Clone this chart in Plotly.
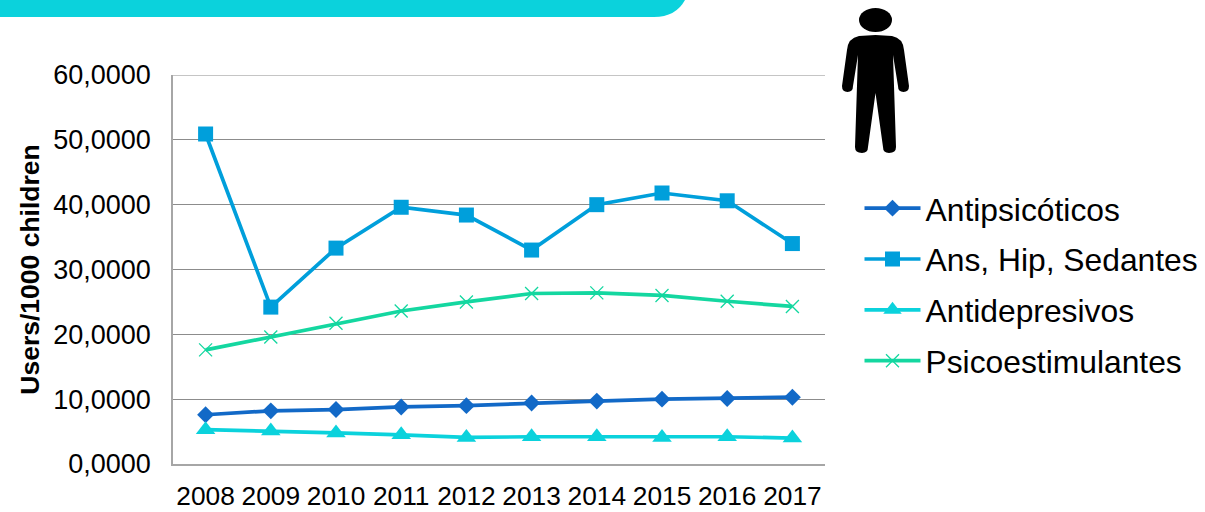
import plotly.graph_objects as go

W, H = 1205, 512
L, R, T, B = 173, 825, 75, 464

years = ["2008", "2009", "2010", "2011", "2012", "2013", "2014", "2015", "2016", "2017"]
antipsicoticos = [7.6, 8.2, 8.4, 8.8, 9.0, 9.4, 9.7, 10.0, 10.1, 10.3]
ans_hip_sedantes = [50.9, 24.2, 33.3, 39.6, 38.4, 33.0, 40.0, 41.8, 40.6, 34.0]
antidepresivos = [5.3, 5.1, 4.8, 4.5, 4.1, 4.2, 4.2, 4.1, 4.2, 4.0]
psicoestimulantes = [17.6, 19.6, 21.7, 23.6, 25.0, 26.3, 26.4, 26.0, 25.1, 24.3]
y_ticks = [0, 10, 20, 30, 40, 50, 60]
y_labels = ["0,0000", "10,0000", "20,0000", "30,0000", "40,0000", "50,0000", "60,0000"]

FONT = "Liberation Sans, Arial, sans-serif"
fig = go.Figure()


def add(name, vals, color, symbol, size, lw=3.7, mline=None):
    marker = dict(symbol=symbol, size=size, color=color)
    if mline:
        marker["line"] = dict(color=color, width=mline)
    fig.add_trace(go.Scatter(x=years, y=vals, name=name, mode="lines+markers", legendgroup=name,
                             line=dict(color=color, width=lw), marker=marker))


add("Antipsicóticos", antipsicoticos, "#1269C7", "diamond", 13)
add("Ans, Hip, Sedantes", ans_hip_sedantes, "#009FDB", "square", 15)
add("Antidepresivos", antidepresivos, "#0BD2DC", "triangle-up", 17)
add("Psicoestimulantes", psicoestimulantes, "#14D7A0", "x-thin", 13, mline=1.3)


def px(x):
    return (x - L) / (R - L)


def py(y):
    return (B - y) / (B - T)


def path(points):
    out = []
    for p in points:
        if len(p) == 2:
            out.append(f"{'M' if not out else 'L'} {px(p[0]):.5f} {py(p[1]):.5f}")
        else:
            out.append(f"Q {px(p[0]):.5f} {py(p[1]):.5f} {px(p[2]):.5f} {py(p[3]):.5f}")
    return " ".join(out) + " Z"


cx = 875.5
right_side = [(cx, 35), (892, 36), (903, 38, 904, 50), (909, 86), (909, 92, 903.5, 92), (898, 92, 898, 86),
              (893, 55), (896, 147), (896, 153, 889, 153), (883, 153, 883, 147), (cx, 93)]

left = []
pts = right_side
for i in range(len(pts) - 1, 0, -1):
    cur = pts[i]
    prev = pts[i - 1]
    end = prev if len(prev) == 2 else (prev[2], prev[3])
    if len(cur) == 2:
        left.append((2 * cx - end[0], end[1]))
    else:
        left.append((2 * cx - cur[0], cur[1], 2 * cx - end[0], end[1]))
person = path(right_side + left)

banner = path([(0, -2), (686, -2), (677, 17, 654, 17), (0, 17)])

shapes = [
    dict(type="path", xref="paper", yref="paper", path=banner, fillcolor="#0BD2DC", line=dict(width=0), layer="above"),
    dict(type="path", xref="paper", yref="paper", path=person, fillcolor="#000000", line=dict(width=0), layer="above"),
    dict(type="circle", xref="paper", yref="paper", x0=px(859), x1=px(892), y0=py(32), y1=py(8),
         fillcolor="#000000", line=dict(width=0), layer="above"),
    dict(type="line", xref="paper", yref="y", x0=0, x1=1, y0=y_ticks[-1], y1=y_ticks[-1],
         line=dict(color="#8C8C8C", width=1), layer="below"),
]

fig.update_layout(
    width=W, height=H, autosize=False,
    margin=dict(l=L, r=W - R, t=T, b=H - B, pad=0, autoexpand=False),
    paper_bgcolor="white", plot_bgcolor="white",
    font=dict(family=FONT, size=26, color="#000000"),
    shapes=shapes,
    legend=dict(x=px(859.5), y=py(181), xanchor="left", yanchor="top", font=dict(size=31.8, color="#000000"),
                itemwidth=56, tracegroupgap=6.5, bgcolor="rgba(0,0,0,0)", traceorder="grouped", itemclick=False),
    xaxis=dict(type="category", categoryorder="array", categoryarray=years, range=[-0.5, 9.5],
               showgrid=False, showline=True, linecolor="#A6A6A6", linewidth=1.5, ticks="", ticklen=0,
               tickfont=dict(size=26.3), tickangle=0, zeroline=False, automargin=False, ticklabelstandoff=8),
    yaxis=dict(range=[0, 60], tickvals=y_ticks, ticktext=y_labels, showgrid=True, gridcolor="#8C8C8C", gridwidth=1,
               showline=True, linecolor="#A6A6A6", linewidth=1.5, ticks="", zeroline=False, tickfont=dict(size=27),
               automargin=False, ticklabelstandoff=15,
               title=dict(text="<b>Users/1000 children</b>", font=dict(size=26.5), standoff=6)),
)

fig.write_html("out.html", post_script="document.body.style.margin='0';",
               config=dict(displayModeBar=False))
